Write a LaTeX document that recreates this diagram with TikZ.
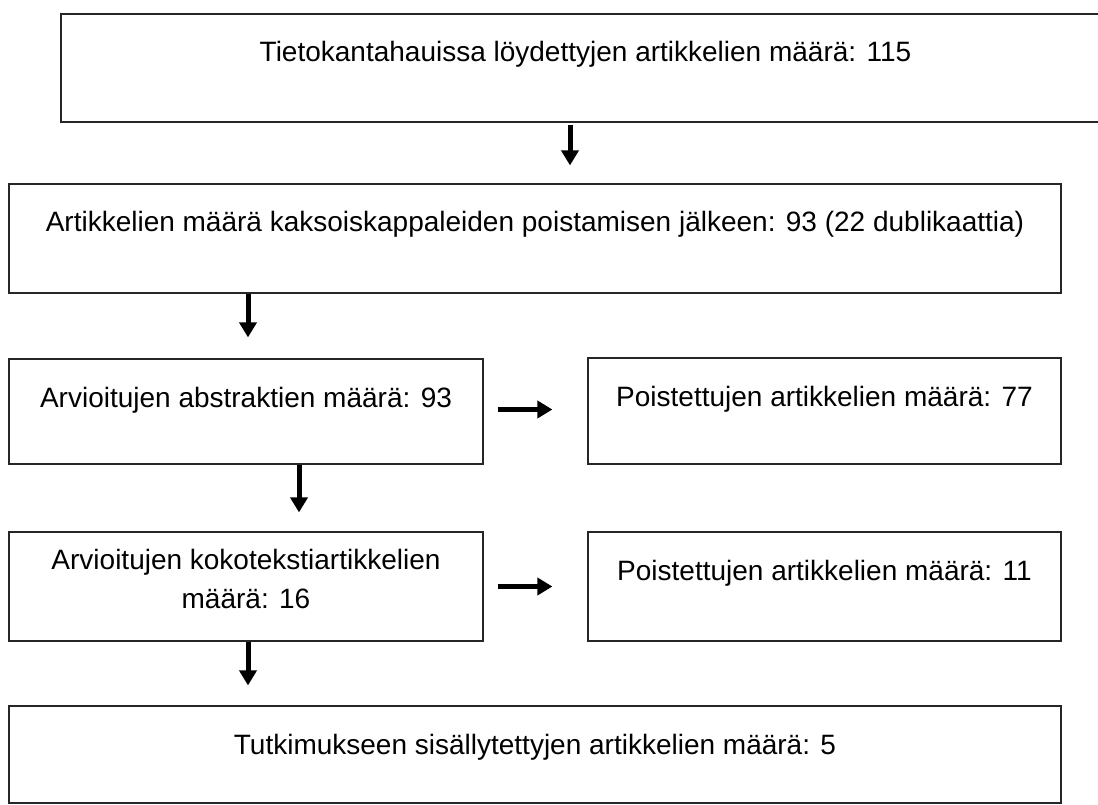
\documentclass[tikz,border=0pt]{standalone}
\usepackage{fontspec}
\setmainfont{Liberation Sans}
\usetikzlibrary{arrows.meta, positioning}

\begin{document}
\begin{tikzpicture}[node distance=172pt]
    % Tyylit
    \tikzstyle{stage} = [rectangle, draw=black!85, line width=1.2pt, inner sep=0pt, text height=48pt, font=\fontsize{28pt}{39pt}\selectfont, text centered]
    \tikzstyle{arrow} = [line width=5pt, -{Triangle[length=15pt,width=17pt]}]

    \clip (0,0) rectangle (1098pt,-805pt);

    % Solmut
    \node (search) [stage, minimum width=1049pt, text depth=60pt] at (585.5pt,-68pt) {Tietokantahauissa löydettyjen artikkelien määrä: 115};
    \node (dup) [stage, minimum width=1052pt, text depth=61pt, below of=search, xshift=-50.5pt, yshift=1.5pt] {Artikkelien määrä kaksoiskappaleiden poistamisen jälkeen: 93 (22 dublikaattia)};
    \node (abs) [stage, minimum width=474pt, text depth=57pt, below of=dup, xshift=-289pt, yshift=-1pt] {Arvioitujen abstraktien määrä: 93};
    \node (rem1) [stage, minimum width=473pt, text depth=58pt, right of=abs, xshift=406.5pt, yshift=0.5pt] {Poistettujen artikkelien määrä: 77};
    \node (full) [stage, minimum width=474pt, text height=76pt, text depth=33pt, align=center, below of=abs, yshift=-3pt] {Arvioitujen kokotekstiartikkelien\\määrä: 16};
    \node (rem2) [stage, minimum width=473pt, text depth=61pt, right of=full, xshift=406.5pt] {Poistettujen artikkelien määrä: 11};
    \node (incl) [stage, minimum width=1052pt, text depth=49pt, below of=full, xshift=289pt, yshift=4pt] {Tutkimukseen sisällytettyjen artikkelien määrä: 5};

    % Nuolet
    \draw [arrow, shorten <=2pt, shorten >=18pt] ([xshift=-15.5pt]search.south) -- ([xshift=-15.5pt]search.south |- dup.north);
    \draw [arrow, shorten >=21pt] ([xshift=2pt]abs.north |- dup.south) -- ([xshift=2pt]abs.north);
    \draw [arrow, shorten <=14pt, shorten >=35pt] ([yshift=2pt]abs.east) -- ([yshift=2pt]abs.east -| rem1.west);
    \draw [arrow, shorten >=19pt] ([xshift=53pt]abs.south) -- ([xshift=53pt]abs.south |- full.north);
    \draw [arrow, shorten <=14pt, shorten >=35pt] (full.east) -- (full.east -| rem2.west);
    \draw [arrow, shorten >=20pt] ([xshift=2pt]full.south) -- ([xshift=2pt]full.south |- incl.north);
\end{tikzpicture}
\end{document}
